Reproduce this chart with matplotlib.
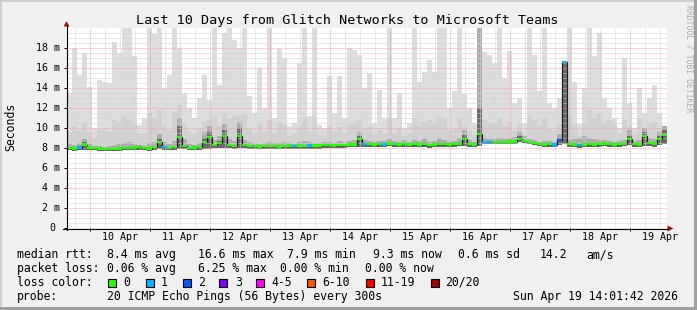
import numpy as np
import matplotlib
matplotlib.use("Agg")
import matplotlib.pyplot as plt
from matplotlib.patches import Rectangle, Polygon
from matplotlib.lines import Line2D
from matplotlib.transforms import Affine2D, blended_transform_factory

W, H, DPI = 697, 310, 100

# ---------------- data ----------------
title = "Last 10 Days from Glitch Networks to Microsoft Teams"
x_start = 0.6167          # days after Apr 9 00:00
x_span = 10.0             # days shown
day_label_pos = [1.5, 2.5, 3.5, 4.5, 5.5, 6.5, 7.5, 8.5, 9.5, 10.5]
day_labels = ["10 Apr", "11 Apr", "12 Apr", "13 Apr", "14 Apr",
              "15 Apr", "16 Apr", "17 Apr", "18 Apr", "19 Apr"]
y_ticks = [0, 2, 4, 6, 8, 10, 12, 14, 16, 18]
y_labels = ["0", "2 m", "4 m", "6 m", "8 m", "10 m", "12 m", "14 m", "16 m", "18 m"]

# median rtt (ms), one value per 2-hour column
median_ms = [
    8.00, 7.95, 8.05, 8.35, 8.05, 8.00, 7.95, 7.90, 7.90, 7.90,
    7.95, 8.00, 8.00, 8.05, 8.10, 8.00, 7.95, 8.10, 8.60, 8.10,
    8.00, 8.10, 9.10, 8.20, 8.00, 8.05, 8.10, 8.60, 9.10, 8.30,
    8.50, 9.20, 8.30, 8.20, 9.20, 8.30, 8.20, 8.20, 8.15, 8.20,
    8.20, 8.20, 8.15, 8.20, 8.25, 8.20, 8.25, 8.20, 8.25, 8.25,
    8.25, 8.30, 8.30, 8.25, 8.30, 8.30, 8.35, 8.35, 8.90, 8.40,
    8.40, 8.35, 8.40, 8.35, 8.45, 8.40, 8.35, 8.40, 8.35, 8.40,
    8.35, 8.40, 8.30, 8.35, 8.40, 8.40, 8.35, 8.40, 8.45, 8.90,
    8.40, 8.35, 9.40, 8.60, 8.60, 8.60, 8.60, 8.60, 8.65, 8.65,
    8.90, 8.70, 8.60, 8.50, 8.40, 8.35, 8.40, 8.35, 8.80, 16.60,
    8.40, 8.35, 8.30, 8.35, 8.40, 8.35, 8.40, 8.45, 8.40, 8.35,
    8.40, 8.40, 8.90, 8.40, 8.35, 9.20, 8.50, 8.45, 8.90, 9.30,
]
# lowest ping of each column
smoke_min = [
    7.80, 7.75, 7.80, 7.85, 7.80, 7.80, 7.75, 7.70, 7.70, 7.70,
    7.75, 7.80, 7.80, 7.80, 7.85, 7.80, 7.75, 7.85, 7.90, 7.85,
    7.80, 7.85, 7.90, 7.95, 7.80, 7.85, 7.85, 7.90, 7.95, 8.00,
    8.00, 8.00, 8.00, 7.95, 8.00, 8.00, 7.95, 7.95, 7.90, 7.95,
    7.95, 7.95, 7.90, 7.95, 7.95, 7.90, 7.95, 7.90, 7.95, 7.95,
    7.95, 8.05, 8.05, 8.00, 8.05, 8.05, 8.10, 8.10, 8.15, 8.15,
    8.15, 8.10, 8.15, 8.10, 8.20, 8.15, 8.10, 8.15, 8.10, 8.15,
    8.10, 8.15, 8.05, 8.10, 8.15, 8.15, 8.10, 8.15, 8.20, 8.20,
    8.15, 8.10, 8.20, 8.40, 8.40, 8.40, 8.40, 8.40, 8.45, 8.45,
    8.60, 8.50, 8.40, 8.30, 8.20, 8.10, 8.15, 8.10, 8.30, 8.40,
    8.15, 8.10, 8.05, 8.10, 8.15, 8.10, 8.15, 8.20, 8.15, 8.10,
    8.15, 8.20, 8.30, 8.15, 8.10, 8.20, 8.20, 8.15, 8.30, 8.40,
]
# innermost smoke (about ping 8 of 20)
smoke_p8 = [
    8.05, 8.00, 8.10, 8.60, 8.10, 8.05, 8.00, 7.95, 7.95, 7.95,
    8.00, 8.05, 8.05, 8.10, 8.15, 8.05, 8.00, 8.15, 9.00, 8.15,
    8.05, 8.15, 10.2, 8.30, 8.05, 8.10, 8.15, 9.00, 9.60, 8.40,
    8.70, 9.80, 8.40, 8.30, 10.0, 8.40, 8.30, 8.25, 8.20, 8.25,
    8.25, 8.25, 8.20, 8.25, 8.30, 8.25, 8.30, 8.25, 8.30, 8.30,
    8.30, 8.35, 8.35, 8.30, 8.35, 8.35, 8.40, 8.40, 9.20, 8.45,
    8.45, 8.40, 8.45, 8.40, 8.50, 8.45, 8.40, 8.45, 8.40, 8.45,
    8.40, 8.45, 8.35, 8.40, 8.45, 8.45, 8.40, 8.45, 8.50, 9.30,
    8.45, 8.40, 12.0, 8.65, 8.65, 8.65, 8.65, 8.65, 8.70, 8.70,
    9.20, 8.75, 8.65, 8.55, 8.45, 8.40, 8.45, 8.40, 9.00, 16.7,
    8.45, 8.40, 8.35, 8.40, 8.45, 8.40, 8.45, 8.50, 8.45, 8.40,
    8.45, 8.45, 9.20, 8.45, 8.40, 9.60, 8.55, 8.50, 9.20, 9.80,
]
# inner smoke (about ping 5 of 20)
smoke_p5 = [
    8.4, 8.3, 8.5, 8.9, 8.4, 8.2, 8.2, 8.1, 8.2, 8.3,
    8.4, 8.5, 8.6, 8.4, 8.3, 8.2, 8.5, 8.6, 9.4, 8.6,
    8.4, 8.7, 11.0, 8.9, 8.4, 8.3, 8.5, 9.6, 10.2, 8.8,
    9.2, 10.4, 8.9, 8.7, 10.6, 8.8, 8.6, 8.5, 8.4, 8.5,
    8.6, 8.5, 8.5, 8.6, 8.5, 8.4, 8.6, 8.7, 8.6, 8.5,
    8.5, 8.6, 8.6, 8.5, 8.7, 8.6, 8.7, 8.8, 9.6, 8.8,
    8.7, 8.6, 8.7, 8.7, 8.9, 8.7, 8.6, 8.8, 8.6, 8.8,
    8.7, 8.9, 8.6, 8.7, 9.0, 8.8, 8.6, 8.7, 9.0, 9.8,
    8.8, 8.6, 20.5, 9.0, 8.9, 8.9, 9.0, 8.9, 9.0, 9.1,
    9.6, 9.2, 8.9, 8.8, 8.6, 8.7, 8.7, 8.6, 9.4, 16.7,
    8.8, 8.9, 9.0, 9.2, 9.0, 8.9, 8.8, 8.8, 8.7, 8.6,
    8.7, 8.8, 9.8, 8.7, 8.8, 10.0, 9.0, 8.9, 9.6, 10.2,
]
# outer smoke (about ping 2 of 20)
smoke_p2 = [
    9.6, 10.2, 9.8, 10.5, 9.5, 9.0, 9.8, 9.9, 9.6, 10.8,
    10.6, 11.2, 10.8, 10.4, 9.4, 9.5, 11.5, 11.0, 11.8, 10.2,
    9.8, 11.6, 12.3, 10.4, 9.6, 9.4, 9.9, 10.6, 10.8, 11.2,
    10.2, 11.5, 11.0, 11.3, 11.2, 11.4, 9.9, 9.5, 10.4, 9.6,
    10.8, 9.5, 10.6, 10.3, 9.2, 9.4, 10.2, 11.0, 9.6, 11.2,
    9.3, 9.2, 10.2, 9.6, 10.1, 9.4, 10.4, 10.5, 10.8, 9.9,
    10.2, 9.3, 9.8, 9.4, 11.0, 9.5, 9.9, 9.2, 9.4, 11.0,
    10.2, 10.6, 10.8, 10.5, 11.2, 11.0, 9.8, 10.0, 10.9, 10.2,
    9.8, 9.3, 20.5, 10.8, 10.6, 10.5, 11.0, 10.2, 10.6, 9.8,
    10.4, 9.3, 11.2, 10.8, 10.2, 11.0, 9.9, 9.8, 10.4, 16.7,
    11.2, 10.4, 9.2, 10.6, 11.8, 11.0, 11.5, 10.5, 10.8, 10.4,
    9.4, 10.8, 10.2, 9.3, 11.0, 10.0, 10.4, 10.6, 10.0, 9.8,
]
# highest ping of each column
smoke_max = [
    13.5, 18.0, 15.3, 17.5, 14.1, 10.0, 14.8, 14.6, 14.5, 18.6,
    17.5, 20.5, 20.5, 17.2, 10.3, 11.0, 20.5, 19.4, 20.5, 14.0,
    15.3, 20.5, 18.0, 13.5, 12.0, 11.0, 13.0, 15.3, 12.8, 20.5,
    14.3, 19.5, 20.5, 18.8, 18.0, 20.5, 13.2, 11.5, 16.0, 12.0,
    20.5, 11.0, 17.9, 17.0, 10.2, 10.5, 16.5, 20.5, 11.2, 20.5,
    10.3, 10.0, 15.2, 11.5, 15.2, 11.0, 18.0, 17.8, 17.3, 14.0,
    15.5, 10.5, 13.8, 11.0, 20.5, 11.0, 13.5, 10.0, 10.5, 20.5,
    14.6, 15.6, 16.8, 15.6, 20.5, 20.5, 12.0, 13.7, 20.5, 13.4,
    12.0, 10.5, 20.5, 17.6, 17.3, 16.5, 20.5, 15.0, 17.7, 12.5,
    13.0, 10.5, 20.5, 17.3, 13.7, 20.5, 12.5, 12.0, 13.0, 16.7,
    20.5, 14.6, 10.4, 14.0, 20.5, 17.2, 19.5, 13.0, 12.0, 11.0,
    10.0, 17.0, 12.5, 10.0, 14.0, 11.5, 13.0, 14.3, 11.5, 10.0,
]
# lost pings (of 20) per column
loss_cnt = [
    0, 0, 1, 0, 0, 0, 0, 0, 0, 0,
    0, 0, 0, 0, 0, 0, 0, 0, 0, 1,
    0, 0, 0, 0, 0, 0, 0, 0, 0, 0,
    0, 0, 0, 0, 0, 0, 0, 0, 0, 0,
    0, 0, 0, 0, 0, 1, 0, 0, 1, 0,
    0, 0, 0, 0, 0, 0, 0, 0, 0, 1,
    0, 0, 0, 1, 0, 0, 0, 0, 0, 0,
    0, 0, 0, 0, 0, 0, 0, 0, 0, 0,
    0, 0, 0, 1, 1, 0, 0, 0, 0, 0,
    0, 0, 0, 0, 0, 0, 0, 1, 2, 1,
    0, 0, 1, 0, 0, 0, 0, 0, 0, 0,
    0, 0, 0, 0, 0, 0, 0, 0, 0, 0,
]
loss_names = ["0", "1", "2", "3", "4-5", "6-10", "11-19", "20/20"]
loss_colors = ["#26ff00", "#00b8ff", "#0059ff", "#7e00ff",
               "#ff00ff", "#ff5500", "#ff0000", "#a10000"]

legend_rtt = ["median rtt:", "8.4 ms avg", "16.6 ms max", "7.9 ms min",
              "9.3 ms now", "0.6 ms sd", "14.2", "am/s"]
legend_loss = ["packet loss:", "0.06 % avg", "6.25 % max", "0.00 % min", "0.00 % now"]
legend_probe = ["probe:", "20 ICMP Echo Pings (56 Bytes) every 300s",
                "Sun Apr 19 14:01:42 2026"]
watermark = "RRDTOOL / TOBI OETIKER"
y_axis_label = "Seconds"

# ---------------- drawing ----------------
MONO = "DejaVu Sans Mono"
plt.rcParams["font.family"] = [MONO]

fig = plt.figure(figsize=(W / DPI, H / DPI), dpi=DPI)
fig.patch.set_facecolor("#f0f0f0")
pix = Affine2D().scale(1.0 / W, -1.0 / H).translate(0, 1) + fig.transFigure

# frame shading
fig.add_artist(Rectangle((0, 0), W, 2, transform=pix, color="#cfcfcf", lw=0))
fig.add_artist(Rectangle((0, 0), 2, H, transform=pix, color="#cfcfcf", lw=0))
fig.add_artist(Rectangle((0, H - 3), W, 3, transform=pix, color="#9e9e9e", lw=0))
fig.add_artist(Rectangle((W - 3, 0), 3, H, transform=pix, color="#9e9e9e", lw=0))

ax = fig.add_axes([67 / W, (H - 228) / H, 600 / W, 200 / H])
ax.set_facecolor("white")
ax.set_xlim(x_start, x_start + x_span)
ax.set_ylim(0, 20)
for s in ax.spines.values():
    s.set_visible(False)

n = len(median_ms)
edges = x_start + np.arange(n + 1) * x_span / n

ax.stairs(smoke_max, edges, baseline=smoke_min, fill=True, color="#dddddd", lw=0, zorder=1)
ax.stairs(smoke_p2, edges, baseline=smoke_min, fill=True, color="#d1d1d1", lw=0, zorder=2)
ax.stairs(smoke_p5, edges, baseline=smoke_min, fill=True, color="#adadad", lw=0, zorder=3)
ax.stairs(smoke_p8, edges, baseline=smoke_min, fill=True, color="#6b6b6b", lw=0, zorder=3.5)

# grid (over the smoke, like rrdtool)
dot = (0, (1, 1))
minor_y = [v for v in np.arange(0.5, 20, 0.5) if v % 2 != 0]
major_y = [v for v in y_ticks if v > 0]
minor_x = [v for v in np.arange(0.25, 11, 0.25) if v % 1 != 0 and x_start < v < x_start + x_span]
major_x = [v for v in range(1, 11)]
ax.hlines(minor_y, x_start, x_start + x_span, colors="#d4d4d4", linestyles=dot, lw=0.72, zorder=4)
ax.vlines(minor_x, 0, 20, colors="#d4d4d4", linestyles=dot, lw=0.72, zorder=4)
ax.hlines(major_y, x_start, x_start + x_span, colors="#f4a8a8", linestyles=dot, lw=0.72, zorder=4.5)
ax.vlines(major_x, 0, 20, colors="#f4a8a8", linestyles=dot, lw=0.72, zorder=4.5)

# median line + loss colored band
ax.stairs(median_ms, edges, baseline=None, color="#202020", lw=0.9, zorder=5)


def loss_idx(c):
    if c <= 3:
        return c
    if c <= 5:
        return 4
    if c <= 10:
        return 5
    if c <= 19:
        return 6
    return 7


band_cols = [loss_colors[loss_idx(c)] for c in loss_cnt]
sw = 0.14
ax.bar(edges[:-1], 2 * sw, bottom=np.array(median_ms) - sw, width=x_span / n,
       align="edge", color=band_cols, lw=0, zorder=6)

# ticks
ax.set_xticks(major_x)
ax.set_yticks(y_ticks)
ax.tick_params(axis="both", direction="out", length=2.2, width=0.72, color="#000000",
               labelbottom=False, labelleft=False)

# axis lines and arrows
fig.add_artist(Line2D([63, 668], [228.5, 228.5], transform=pix, color="black", lw=0.8))
fig.add_artist(Line2D([66.5, 66.5], [230, 25], transform=pix, color="black", lw=0.8))
fig.add_artist(Polygon([(63.5, 26.5), (69.5, 26.5), (66.5, 21)], closed=True,
                       transform=pix, color="#a01818", lw=0))
fig.add_artist(Polygon([(667.5, 225.5), (667.5, 231.5), (673.5, 228.5)], closed=True,
                       transform=pix, color="#a01818", lw=0))

# tick labels
xlab_tr = blended_transform_factory(ax.transData, pix)
for p, s in zip(day_label_pos, day_labels):
    fig.text(p, 240.5, s, transform=xlab_tr, ha="center", va="baseline",
             fontsize=7.2, family=MONO, color="black")
ylab_tr = blended_transform_factory(pix, ax.transData)
for v, s in zip(y_ticks, y_labels):
    if v == 0:
        fig.text(52.5, v - 0.33, s, transform=ylab_tr, ha="center", va="baseline",
                 fontsize=7.2, family=MONO)
    else:
        fig.text(59.6, v - 0.33, s, transform=ylab_tr, ha="right", va="baseline",
                 fontsize=7.2, family=MONO)

# title and side labels
fig.text(347, 24, title, transform=pix, ha="center", va="baseline", fontsize=9.7, family=MONO)
fig.text(11, 127, y_axis_label, transform=pix, ha="center", va="center", rotation=90,
         fontsize=8.3, family=MONO)
fig.text(689, 59, watermark, transform=pix, ha="center", va="center", rotation=270,
         fontsize=5.9, family=MONO, color="#aaaaaa")

# legend
LF = 8.3
rows_y = [258, 271.9, 285.8, 299.7]
rtt_x = [16.7, 107, 198.5, 287, 372.7, 458, 540, 586]
for x, s in zip(rtt_x, legend_rtt):
    fig.text(x, rows_y[0], s, transform=pix, ha="left", va="baseline", fontsize=LF, family=MONO)
loss_x = [16.7, 107, 198.5, 279.5, 365]
for x, s in zip(loss_x, legend_loss):
    fig.text(x, rows_y[1], s, transform=pix, ha="left", va="baseline", fontsize=LF, family=MONO)
fig.text(16.7, rows_y[2], "loss color:", transform=pix, ha="left", va="baseline",
         fontsize=LF, family=MONO)
box_x = [108.3, 145.7, 182.7, 219, 256, 307.3, 365.7, 430.7]
lab_x = [123.3, 161, 198.3, 235, 271, 322.7, 380.7, 445]
for bx, lx, nm, col in zip(box_x, lab_x, loss_names, loss_colors):
    fig.add_artist(Rectangle((bx, 278.5), 8, 8, transform=pix, facecolor=col,
                             edgecolor="black", lw=0.8))
    fig.text(lx, rows_y[2], nm, transform=pix, ha="left", va="baseline", fontsize=LF, family=MONO)
probe_x = [16.7, 107, 513]
for x, s in zip(probe_x, legend_probe):
    fig.text(x, rows_y[3], s, transform=pix, ha="left", va="baseline", fontsize=LF, family=MONO)

fig.savefig("out.png", dpi=DPI)
